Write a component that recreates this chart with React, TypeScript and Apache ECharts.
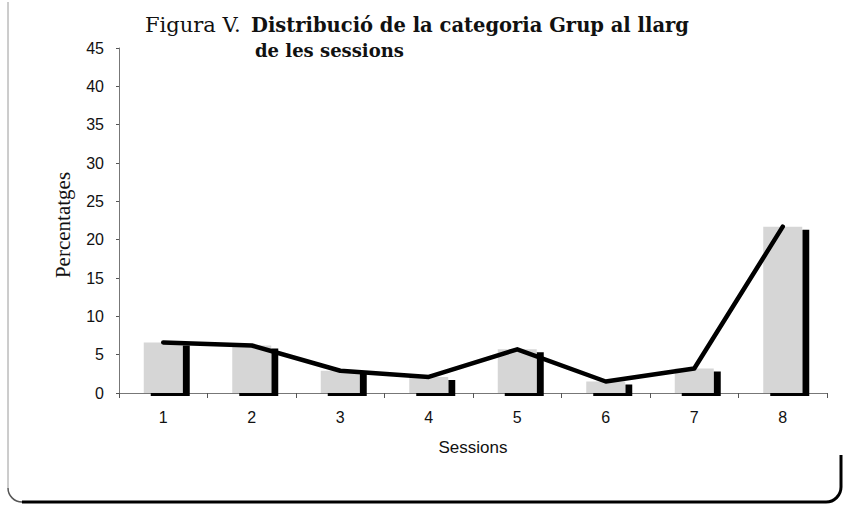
import React, { useEffect, useRef } from "react";
import * as echarts from "echarts";

const sessions = ["1", "2", "3", "4", "5", "6", "7", "8"];
const grupPct = [6.6, 6.2, 2.9, 2.1, 5.7, 1.5, 3.2, 21.7];
const yMin = 0;
const yMax = 45;
const yStep = 5;

const titleLead = "Figura V.";
const titleLine1 = "Distribució de la categoria Grup al llarg";
const titleLine2 = "de les sessions";
const xName = "Sessions";
const yName = "Percentatges";

export default function App() {
  const ref = useRef<HTMLDivElement>(null);
  useEffect(() => {
    if (!ref.current) return;
    const chart = echarts.init(ref.current, undefined, { renderer: "svg" });
    const sans = "'Liberation Sans', Arial, sans-serif";
    const serif = "'DejaVu Serif', serif";
    chart.setOption({
      animation: false,
      backgroundColor: "#ffffff",
      title: [
        {
          text: titleLead,
          left: 140,
          top: 9,
          textStyle: { fontFamily: serif, fontSize: 21, fontWeight: "normal", color: "#111" },
        },
        {
          text: titleLine1,
          left: 246,
          top: 10,
          textStyle: { fontFamily: serif, fontSize: 19.5, fontWeight: "bold", color: "#111" },
        },
        {
          text: titleLine2,
          left: 250,
          top: 36,
          textStyle: { fontFamily: serif, fontSize: 18, fontWeight: "bold", color: "#111" },
        },
      ],
      grid: { left: 119, right: 17, top: 48, bottom: 113, containLabel: false },
      xAxis: {
        type: "category",
        data: sessions,
        name: xName,
        nameLocation: "middle",
        nameGap: 46,
        nameTextStyle: { fontFamily: sans, fontSize: 17, color: "#111" },
        axisLine: { lineStyle: { color: "#777", width: 1 } },
        axisTick: { show: true, length: 5, lineStyle: { color: "#555" } },
        axisLabel: { fontFamily: sans, fontSize: 16, color: "#111", margin: 16 },
      },
      yAxis: {
        type: "value",
        min: yMin,
        max: yMax,
        interval: yStep,
        name: yName,
        nameLocation: "middle",
        nameRotate: 90,
        nameGap: 46,
        nameTextStyle: {
          fontFamily: "'Liberation Serif', serif",
          fontSize: 21,
          color: "#111",
          padding: [0, 9, 0, 0],
        },
        axisLine: { show: true, lineStyle: { color: "#777", width: 1 } },
        axisTick: { show: true, length: 3, lineStyle: { color: "#555" } },
        axisLabel: { fontFamily: sans, fontSize: 16, color: "#111", margin: 15 },
        splitLine: { show: false },
      },
      series: [
        {
          name: "Grup",
          type: "bar",
          data: grupPct,
          barWidth: 39,
          itemStyle: {
            color: "#d6d6d6",
            shadowColor: "#000000",
            shadowBlur: 0,
            shadowOffsetX: 7,
            shadowOffsetY: 3,
          },
          z: 2,
        },
        {
          name: "Grup (línia)",
          type: "line",
          data: grupPct,
          symbol: "none",
          lineStyle: { color: "#000", width: 4.5, cap: "round", join: "round" },
          z: 3,
        },
      ],
      graphic: [
        {
          type: "line",
          shape: { x1: 8, y1: 2, x2: 8, y2: 488 },
          style: { stroke: "#9a9a9a", lineWidth: 1 },
          silent: true,
        },
        {
          type: "arc",
          shape: { cx: 22, cy: 488, r: 14, startAngle: Math.PI / 2, endAngle: Math.PI },
          style: { stroke: "#555", lineWidth: 1.5, fill: "none" },
          silent: true,
        },
        {
          type: "line",
          shape: { x1: 22, y1: 502, x2: 826, y2: 502 },
          style: { stroke: "#000", lineWidth: 3 },
          silent: true,
        },
        {
          type: "arc",
          shape: { cx: 826, cy: 487, r: 15, startAngle: 0, endAngle: Math.PI / 2 },
          style: { stroke: "#000", lineWidth: 3, fill: "none" },
          silent: true,
        },
        {
          type: "line",
          shape: { x1: 841, y1: 455, x2: 841, y2: 487 },
          style: { stroke: "#000", lineWidth: 3 },
          silent: true,
        },
      ],
    });
    return () => chart.dispose();
  }, []);
  return (
    <div
      ref={ref}
      style={{ position: "fixed", left: 0, top: 0, width: 844, height: 506, background: "#fff" }}
    />
  );
}
